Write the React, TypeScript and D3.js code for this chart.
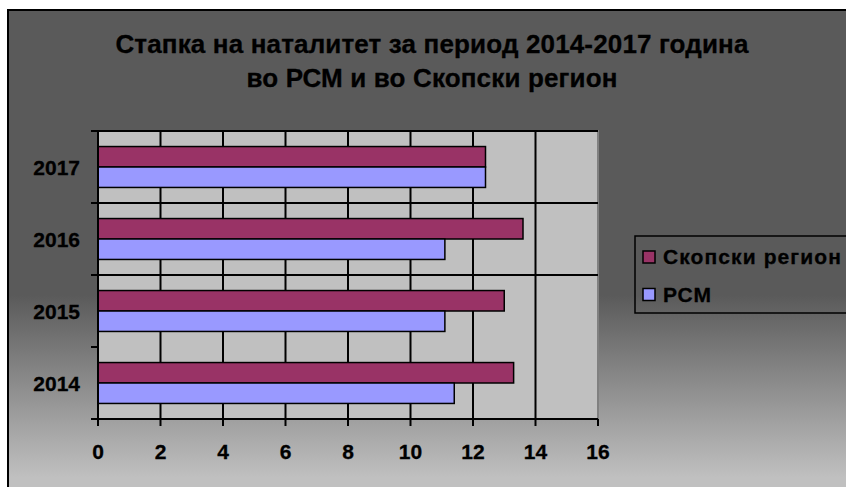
import React from 'react'
import * as d3 from 'd3'

const years = ['2014', '2015', '2016', '2017']
const rsmValues = [11.4, 11.1, 11.1, 12.4]
const skopjeValues = [13.3, 13.0, 13.6, 12.4]
const seriesNames = ['Скопски регион', 'РСМ']
const seriesColors = ['#993366', '#9999FF']
const xTicks = [0, 2, 4, 6, 8, 10, 12, 14, 16]
const titleLines = ['Стапка на наталитет за период 2014-2017 година', 'во РСМ и во Скопски регион']

const width = 846
const height = 487
const plot = { left: 98, right: 598, top: 131, bottom: 419 }
const font = '"Liberation Sans", Arial, sans-serif'

const App = () => {
  const x = d3.scaleLinear().domain([0, 16]).range([plot.left, plot.right])
  const y = d3
    .scaleBand()
    .domain(years.slice().reverse())
    .range([plot.top, plot.bottom])
    .padding(0)
  const sub = d3
    .scaleBand()
    .domain(seriesNames)
    .range([0, y.bandwidth()])
    .paddingInner(0)
    .paddingOuter(0.76)

  const rows = years.map((yr, i) => ({
    year: yr,
    values: [skopjeValues[i], rsmValues[i]],
  }))

  // category boundaries (tick marks + horizontal grid)
  const bounds = years.map(yr => y(yr)).concat([plot.bottom])

  return (
    <svg
      width={width}
      height={height}
      style={{ position: 'absolute', left: 0, top: 0 }}
      fontFamily={font}
    >
      <defs>
        <linearGradient id="bg" gradientUnits="userSpaceOnUse" x1="0" y1="295" x2="0" y2="478">
          <stop offset="0" stopColor="#5a5a5a" />
          <stop offset="1" stopColor="#c0c0c0" />
        </linearGradient>
      </defs>
      <rect width={width} height={height} fill="#fff" />
      <rect x={8} y={10} width={width + 10} height={height + 10} fill="url(#bg)" stroke="#000" strokeWidth={2} />

      {titleLines.map((t, i) => (
        <text
          key={i}
          x={432}
          y={53 + i * 34}
          textAnchor="middle"
          fontSize={26}
          fontWeight="bold"
          letterSpacing={0.15}
          fill="#000"
          stroke="#000"
          strokeWidth={0.3}
        >
          {t}
        </text>
      ))}

      <rect
        x={plot.left}
        y={plot.top}
        width={plot.right - plot.left}
        height={plot.bottom - plot.top}
        fill="#c0c0c0"
        stroke="#808080"
        strokeWidth={2}
      />

      {/* vertical gridlines */}
      {xTicks.slice(1, -1).map(t => (
        <line key={t} x1={x(t)} x2={x(t)} y1={plot.top} y2={plot.bottom} stroke="#000" strokeWidth={2} />
      ))}
      {/* horizontal gridlines */}
      {bounds.slice(1, -1).map((b, i) => (
        <line key={i} x1={plot.left} x2={plot.right} y1={b} y2={b} stroke="#000" strokeWidth={2} />
      ))}

      {/* bars */}
      {rows.map(r => (
        <g key={r.year} transform={`translate(0 ${y(r.year)})`}>
          {r.values.map((v, j) => (
            <rect
              key={j}
              x={x(0)}
              y={sub(seriesNames[j])}
              width={x(v) - x(0)}
              height={sub.bandwidth()}
              fill={seriesColors[j]}
              stroke="#000"
              strokeWidth={1.5}
            />
          ))}
        </g>
      ))}

      {/* axes */}
      <line x1={plot.left} x2={plot.left} y1={plot.top} y2={plot.bottom + 7} stroke="#000" strokeWidth={2} />
      <line x1={plot.left - 7} x2={plot.right} y1={plot.bottom} y2={plot.bottom} stroke="#000" strokeWidth={2} />
      {bounds.map((b, i) => (
        <line key={i} x1={plot.left - 7} x2={plot.left} y1={b} y2={b} stroke="#000" strokeWidth={2} />
      ))}
      {xTicks.map(t => (
        <g key={t}>
          <line x1={x(t)} x2={x(t)} y1={plot.bottom} y2={plot.bottom + 7} stroke="#000" strokeWidth={2} />
          <text x={x(t)} y={459} textAnchor="middle" fontSize={21} fontWeight="bold" fill="#000" stroke="#000" strokeWidth={0.3}>
            {t}
          </text>
        </g>
      ))}
      {years.map(yr => (
        <text
          key={yr}
          x={80}
          y={(y(yr) as number) + y.bandwidth() / 2 + 8}
          textAnchor="end"
          fontSize={21}
          fontWeight="bold"
          fill="#000"
          stroke="#000"
          strokeWidth={0.3}
        >
          {yr}
        </text>
      ))}

      {/* legend */}
      <rect x={635} y={236} width={230} height={77} fill="none" stroke="#000" strokeWidth={1.5} />
      {seriesNames.map((name, i) => (
        <g key={name} transform={`translate(643 ${251 + i * 37.5})`}>
          <rect width={12} height={12} fill={seriesColors[i]} stroke="#000" strokeWidth={1.5} />
          <text x={20} y={13} fontSize={21} fontWeight="bold" fill="#000" letterSpacing={1.1} stroke="#000" strokeWidth={0.3}>
            {name}
          </text>
        </g>
      ))}
    </svg>
  )
}

export default App
